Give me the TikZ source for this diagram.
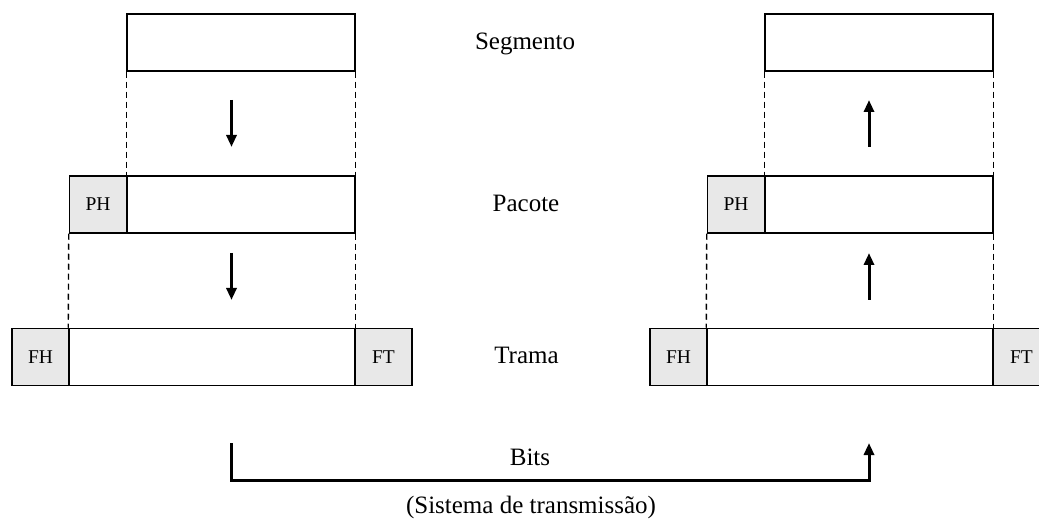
\documentclass[tikz,border=0pt]{standalone}
\usepackage{fontspec}
\setmainfont{Liberation Serif}
\usetikzlibrary{arrows.meta}
\definecolor{hdrgray}{RGB}{232,232,232}
\begin{document}
\begin{tikzpicture}[x=1pt,y=-1pt,
  cell/.style={draw=black,line width=1.5pt,inner sep=0pt,minimum height=57pt},
  hdr/.style={cell,fill=hdrgray,minimum width=57pt,font=\fontsize{19.5}{23}\selectfont},
  guide/.style={draw=black,line width=1.4pt,dash pattern=on 6pt off 4pt},
  flow/.style={draw=black,line width=3pt,-{Triangle[length=12pt,width=10pt]}},
  lbl/.style={anchor=base,inner sep=0pt,font=\fontsize{25}{30}\selectfont}]
\clip (0,0) rectangle (1039,521);
% left stack
\node[cell,minimum width=228pt] (lseg) at (241,42.5) {};
\node[cell,minimum width=228pt] (lpb) at (241,204.5) {};
\node[hdr] (lph) at (98,204.5) {PH};
\node[cell,minimum width=286pt] (lfb) at (212,357) {};
\node[hdr] (lfh) at (40.5,357) {FH};
\node[hdr] (lft) at (383.5,357) {FT};
% right stack
\node[cell,minimum width=228pt] (rseg) at (879,42.5) {};
\node[cell,minimum width=228pt] (rpb) at (879,204.5) {};
\node[hdr] (rph) at (736,204.5) {PH};
\node[cell,minimum width=286pt] (rfb) at (850,357) {};
\node[hdr] (rfh) at (678.5,357) {FH};
\node[hdr] (rft) at (1021.5,357) {FT};
% dashed guides
\draw[guide] (lseg.south west) -- (lpb.north west);
\draw[guide] (lseg.south east) -- (lpb.north east);
\draw[guide] (lph.south west) -- (lfb.north west);
\draw[guide] (lpb.south east) -- (lfb.north east);
\draw[guide] (rseg.south west) -- (rpb.north west);
\draw[guide] (rseg.south east) -- (rpb.north east);
\draw[guide] (rph.south west) -- (rfb.north west);
\draw[guide] (rpb.south east) -- (rfb.north east);
% labels
\node[lbl] (tseg) at (525,50) {Segmento};
\node[lbl] (tpac) at (526,212) {Pacote};
\node[lbl] (ttra) at (526.5,363) {Trama};
\node[lbl] (tbits) at (530,465) {Bits};
\node[lbl] (tsys) at (531,513) {(Sistema de transmissão)};
% flow arrows
\coordinate (la1) at (231.5,100);
\coordinate (la1e) at (231.5,147);
\coordinate (la2) at (231.5,253);
\coordinate (la2e) at (231.5,300);
\coordinate (ra1) at (869,147);
\coordinate (ra1e) at (869,100);
\coordinate (ra2) at (869,300);
\coordinate (ra2e) at (869,253);
\draw[flow] (la1) -- (la1e);
\draw[flow] (la2) -- (la2e);
\draw[flow] (ra1) -- (ra1e);
\draw[flow] (ra2) -- (ra2e);
% bits path
\coordinate (bstart) at (231.5,443);
\coordinate (bend) at (869,443);
\draw[flow,line join=miter] (bstart) |- (869,480) -- (bend);
\end{tikzpicture}
\end{document}
